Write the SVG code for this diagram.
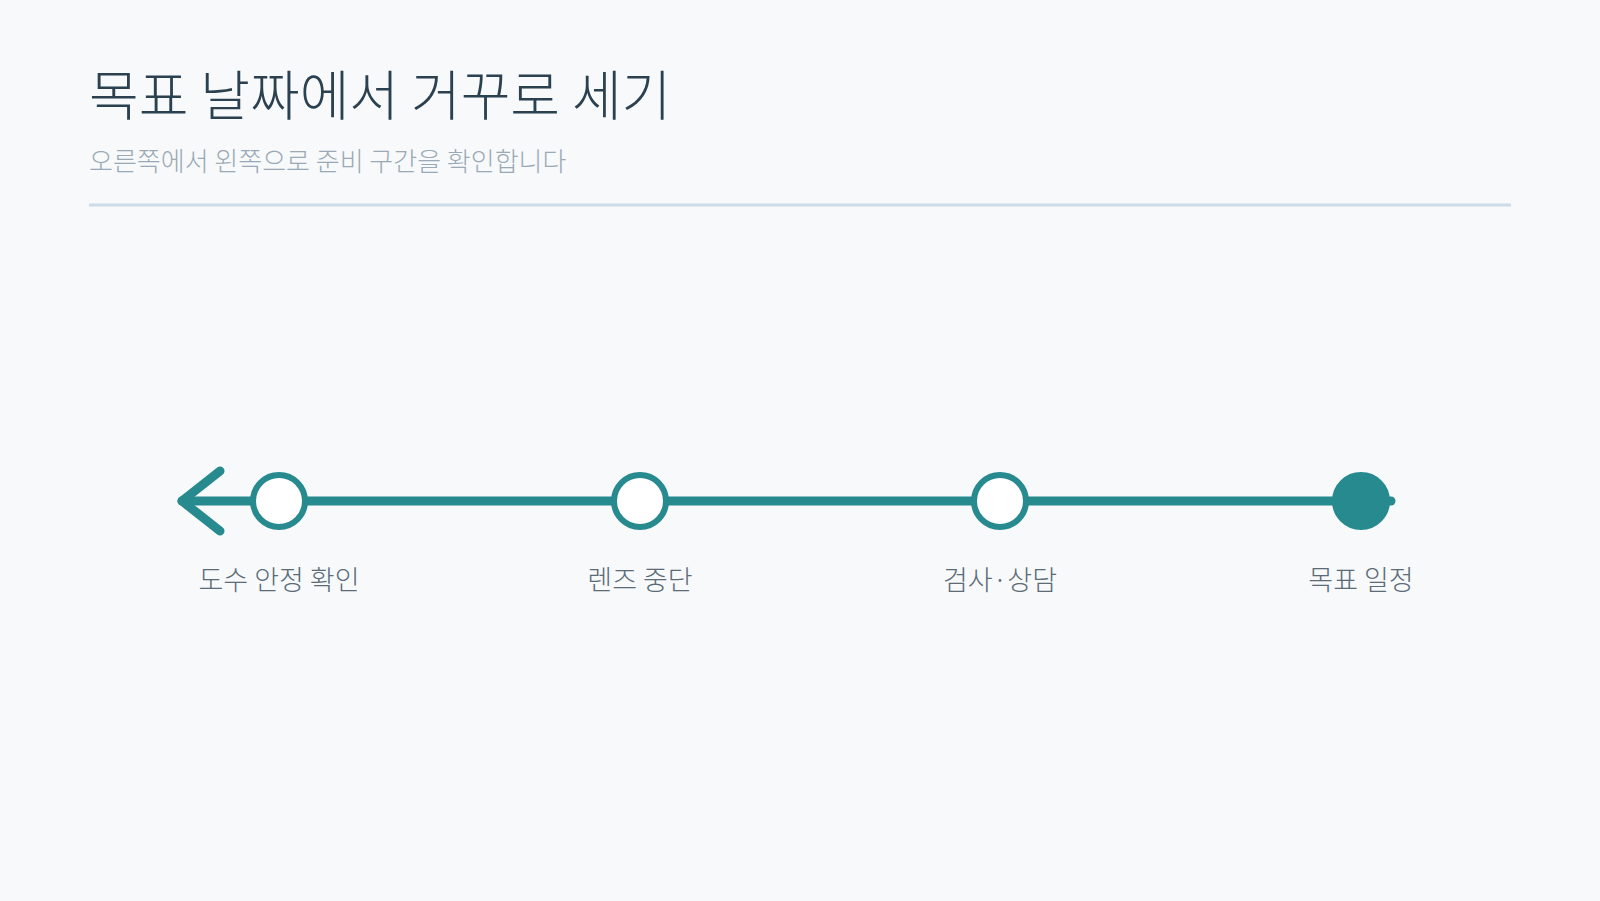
<svg xmlns="http://www.w3.org/2000/svg" width="1600" height="901" viewBox="0 0 1600 901">
<style>
.title{font-family:"Noto Sans CJK KR","Noto Sans",sans-serif;font-size:54px;font-weight:300;fill:#2b4150;}
.sub{font-family:"Noto Sans CJK KR","Noto Sans",sans-serif;font-size:26px;font-weight:300;fill:#9aa9b5;}
.lbl{font-family:"Noto Sans CJK KR","Noto Sans",sans-serif;font-size:27px;font-weight:300;fill:#5b6b77;text-anchor:middle;}
.open{fill:#ffffff;stroke:#268a8e;stroke-width:6;}
.done{fill:#268a8e;stroke:#268a8e;stroke-width:6;}
.track{stroke:#268a8e;stroke-width:9;stroke-linecap:round;stroke-linejoin:round;fill:none;}
</style>
<rect width="1600" height="901" fill="#f7f9fb"/>
<text class="title" x="89" y="116">목표 날짜에서 거꾸로 세기</text>
<text class="sub" x="89" y="171">오른쪽에서 왼쪽으로 준비 구간을 확인합니다</text>
<line x1="89" y1="205" x2="1511" y2="205" stroke="#cddce7" stroke-width="3"/>
<g id="connectors">
<line class="track" x1="182" y1="501" x2="1391" y2="501"/>
<polyline class="track" points="220,471 182,501 220,531"/>
</g>
<g id="node1"><circle class="open" cx="279" cy="501" r="26"/><text class="lbl" x="279" y="590">도수 안정 확인</text></g>
<g id="node2"><circle class="open" cx="640" cy="501" r="26"/><text class="lbl" x="640" y="590">렌즈 중단</text></g>
<g id="node3"><circle class="open" cx="1000" cy="501" r="26"/><text class="lbl" x="1000" y="590">검사·상담</text></g>
<g id="node4"><circle class="done" cx="1361" cy="501" r="26"/><text class="lbl" x="1361" y="590">목표 일정</text></g>
</svg>
